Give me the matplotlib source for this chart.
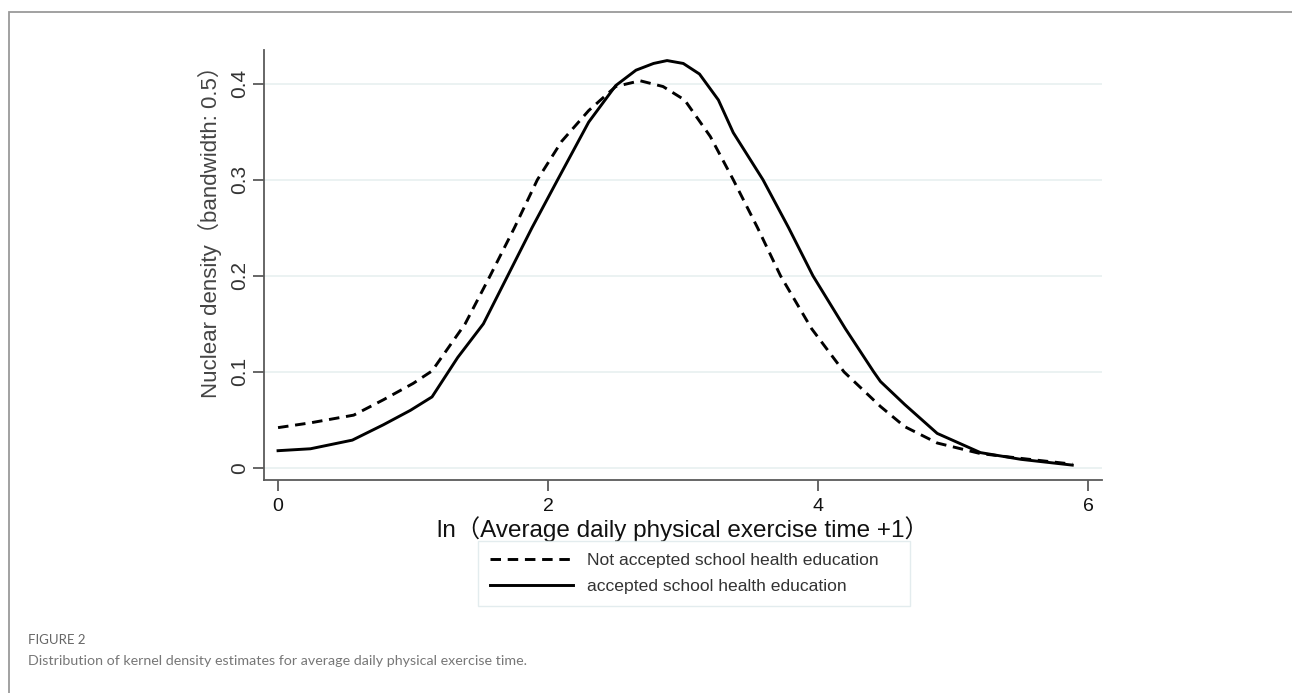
import matplotlib
matplotlib.use("Agg")
import matplotlib.pyplot as plt
from matplotlib.patches import Rectangle

plt.rcParams['font.family'] = ['Liberation Sans', 'Noto Sans CJK SC', 'DejaVu Sans']

# ---- data ----
x_not = [0, 0.24, 0.56, 0.78, 1.0, 1.14, 1.385, 1.57, 1.75, 1.92, 2.1, 2.3, 2.5,
         2.68, 2.85, 3.01, 3.2, 3.37, 3.55, 3.72, 3.95, 4.19, 4.46, 4.64, 4.88,
         5.2, 5.5, 5.88]
y_not = [0.042, 0.047, 0.055, 0.071, 0.088, 0.101, 0.15, 0.2, 0.25, 0.3, 0.34,
         0.372, 0.397, 0.403, 0.397, 0.383, 0.345, 0.3, 0.25, 0.2, 0.145, 0.1,
         0.064, 0.043, 0.026, 0.015, 0.01, 0.004]

x_acc = [0, 0.24, 0.55, 0.78, 0.98, 1.14, 1.33, 1.52, 1.70, 1.88, 2.07, 2.3, 2.5,
         2.65, 2.78, 2.88, 3.0, 3.12, 3.26, 3.37, 3.59, 3.78, 3.96, 4.2, 4.41,
         4.46, 4.64, 4.88, 5.2, 5.5, 5.88]
y_acc = [0.018, 0.020, 0.029, 0.045, 0.060, 0.074, 0.115, 0.15, 0.2, 0.25, 0.3,
         0.36, 0.398, 0.414, 0.421, 0.424, 0.421, 0.41, 0.383, 0.349, 0.3, 0.25,
         0.2, 0.145, 0.1, 0.09, 0.066, 0.036, 0.016, 0.009, 0.003]

x_ticks = [0, 2, 4, 6]
y_ticks = [0, 0.1, 0.2, 0.3, 0.4]
y_ticklabels = ['0', '0.1', '0.2', '0.3', '0.4']

label_not = 'Not accepted school health education'
label_acc = 'accepted school health education'
xlabel = 'ln（Average daily physical exercise time +1）'
ylabel = 'Nuclear density（bandwidth: 0.5）'
fig_label = 'FIGURE 2'
caption = 'Distribution of kernel density estimates for average daily physical exercise time.'

# ---- figure ----
W, H = 1292, 693
fig = plt.figure(figsize=(W / 100, H / 100), dpi=100)
fig.patch.set_facecolor('white')

# outer frame
fig.patches.append(Rectangle((9 / W, -0.05), 1.2, 1 - 12 / H + 0.05,
                             transform=fig.transFigure, fill=False,
                             edgecolor='#9a9a9a', linewidth=1.3))

ax = fig.add_axes([264 / W, 1 - 480 / H, (1102 - 264) / W, (480 - 50) / H])
ax.set_xlim(-0.104, 6.10)
ax.set_ylim(-0.0125, 0.435)

for yv in y_ticks:
    ax.axhline(yv, color='#e8f0f0', lw=1.2, zorder=0)

ax.plot(x_not, y_not, color='black', lw=2.1, dashes=(3.6, 2.3),
        label=label_not, solid_capstyle='butt')
ax.plot(x_acc, y_acc, color='black', lw=2.1, label=label_acc)

for s in ['top', 'right']:
    ax.spines[s].set_visible(False)
for s in ['left', 'bottom']:
    ax.spines[s].set_color('#5a5a5a')
    ax.spines[s].set_linewidth(1.3)

ax.set_xticks(x_ticks)
ax.set_xticklabels([str(v) for v in x_ticks], fontsize=14, color='#111111')
ax.set_yticks(y_ticks)
ax.set_yticklabels(y_ticklabels, fontsize=15, color='#333333', rotation=90,
                   va='center')
ax.tick_params(axis='both', direction='out', length=8, width=1.3,
               color='#5a5a5a')
ax.tick_params(axis='x', pad=5)
ax.tick_params(axis='y', pad=3)

ax.set_xlabel(xlabel, fontsize=17.5, color='#111111', labelpad=1)
ax.set_ylabel(ylabel, fontsize=16, color='#444444')
ax.yaxis.set_label_coords(-0.050, (480 - 226) / 430)

leg = fig.legend(loc='center', bbox_to_anchor=(478 / W, 1 - 605 / H, 432 / W, 63 / H),
                 mode='expand',
                 fontsize=12.6, handlelength=4.75, handletextpad=0.8,
                 labelspacing=0.62, borderpad=0.7, frameon=True,
                 fancybox=False, borderaxespad=0)
leg.get_frame().set_edgecolor('#dde8ea')
leg.get_frame().set_linewidth(1.0)
for t in leg.get_texts():
    t.set_color('#333333')

fig.text(28 / W, 1 - 640 / H, fig_label, fontsize=9.5,
         family=['Lato', 'DejaVu Sans'],
         color='#666666', va='center', ha='left')
fig.text(28 / W, 1 - 661 / H, caption, fontsize=10.3,
         family=['Lato', 'DejaVu Sans'],
         color='#777777', va='center', ha='left')

fig.savefig('out.png', dpi=100)
